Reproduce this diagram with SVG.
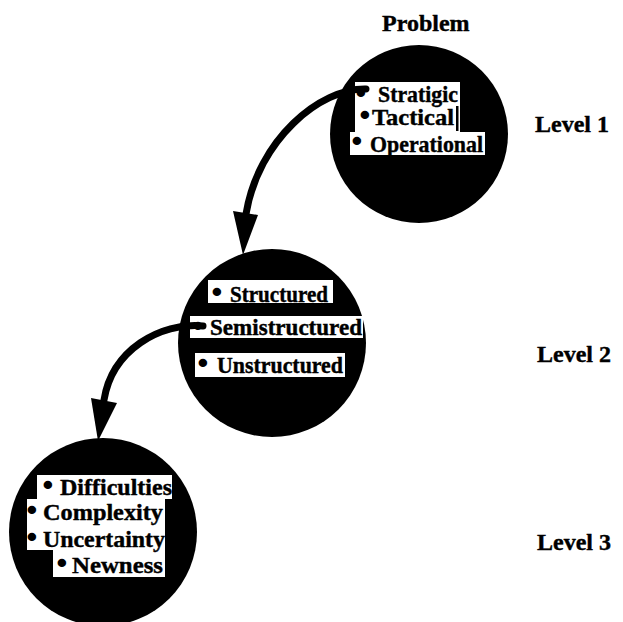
<svg xmlns="http://www.w3.org/2000/svg" width="623" height="622" viewBox="0 0 623 622">
<style>
  .disk { fill: #000; }
  .box { fill: #fff; }
  .t { font-family: "Liberation Serif", "Times New Roman", serif; font-weight: bold; font-size: 23px; fill: #000; stroke: #000; stroke-width: 0.4; }
  .b { font-family: "Liberation Serif", "Times New Roman", serif; font-weight: bold; font-size: 22px; fill: #000; stroke: #000; stroke-width: 2.5; stroke-linejoin: round; }
  .lbl { font-family: "Liberation Serif", "Times New Roman", serif; font-weight: bold; font-size: 24px; fill: #000; stroke: #000; stroke-width: 0.4; }
  .conn { fill: none; stroke: #000; stroke-width: 7; stroke-linecap: round; }
  .head { fill: #000; }
</style>
<rect width="623" height="622" fill="#fff"/>

<g id="labels">
  <text class="lbl" x="382" y="31" font-size="25">Problem</text>
  <text class="lbl" x="535" y="132">Level 1</text>
  <text class="lbl" x="537" y="362">Level 2</text>
  <text class="lbl" x="537" y="550">Level 3</text>
</g>

<g id="node-level1">
  <circle class="disk" cx="419" cy="134" r="89"/>
  <rect class="box" x="355" y="82" width="105" height="50"/>
  <rect class="box" x="350" y="132" width="135" height="23"/>
  <rect x="456" y="106" width="2.5" height="25" fill="#000"/>
  <text class="b" x="357" y="100">•</text>
  <text class="t" x="378" y="102" textLength="80" lengthAdjust="spacingAndGlyphs">Stratigic</text>
  <text class="b" x="361" y="122">•</text>
  <text class="t" x="372" y="125" textLength="82" lengthAdjust="spacingAndGlyphs">Tactical</text>
  <text class="b" x="353" y="148">•</text>
  <text class="t" x="370" y="152" textLength="113" lengthAdjust="spacingAndGlyphs">Operational</text>
</g>

<g id="node-level2">
  <circle class="disk" cx="272" cy="343" r="94"/>
  <rect class="box" x="208" y="280" width="125" height="23"/>
  <rect class="box" x="190" y="316" width="173" height="22"/>
  <rect class="box" x="195" y="353" width="150" height="24"/>
  <text class="b" x="213" y="299">•</text>
  <text class="t" x="230" y="302" textLength="98" lengthAdjust="spacingAndGlyphs">Structured</text>
  <text class="b" x="194" y="333">•</text>
  <text class="t" x="210" y="335" textLength="152" lengthAdjust="spacingAndGlyphs">Semistructured</text>
  <text class="b" x="199" y="370">•</text>
  <text class="t" x="217" y="373" textLength="126" lengthAdjust="spacingAndGlyphs">Unstructured</text>
</g>

<g id="node-level3">
  <circle class="disk" cx="103" cy="532" r="94"/>
  <path class="box" d="M37 475 H172 V499 H165 V577 H53 V550 H27 V499 H37 Z"/>
  <text class="b" x="44" y="492">•</text>
  <text class="t" x="60" y="495" textLength="112" lengthAdjust="spacingAndGlyphs">Difficulties</text>
  <text class="b" x="28" y="517">•</text>
  <text class="t" x="43" y="520" textLength="120" lengthAdjust="spacingAndGlyphs">Complexity</text>
  <text class="b" x="28" y="544">•</text>
  <text class="t" x="43" y="547" textLength="122" lengthAdjust="spacingAndGlyphs">Uncertainty</text>
  <text class="b" x="58" y="570">•</text>
  <text class="t" x="72" y="573" textLength="91" lengthAdjust="spacingAndGlyphs">Newness</text>
</g>

<g id="connectors">
  <path class="conn" d="M366 89 C320 88 258 140 246 214"/>
  <polygon class="head" points="233,211 258,215 243,255"/>
  <path class="conn" d="M203 326 C160 322 112 350 104 400"/>
  <polygon class="head" points="91,398 117,403 98,441"/>
</g>
</svg>
